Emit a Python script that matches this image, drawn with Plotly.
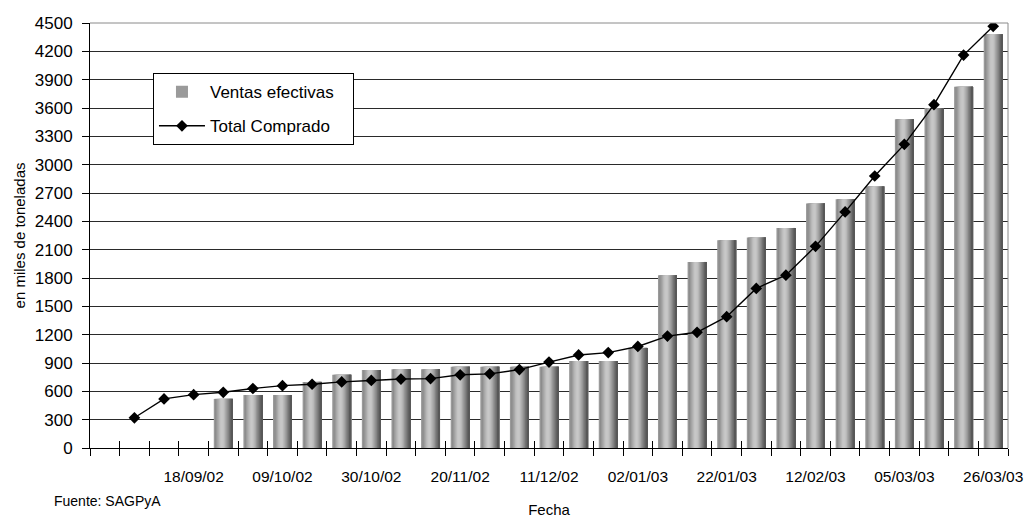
import plotly.graph_objects as go

# Weekly reporting dates (category axis)
fechas = [
    "28/08/02", "04/09/02", "11/09/02", "18/09/02", "25/09/02", "02/10/02",
    "09/10/02", "16/10/02", "23/10/02", "30/10/02", "06/11/02", "13/11/02",
    "20/11/02", "27/11/02", "04/12/02", "11/12/02", "18/12/02", "26/12/02",
    "02/01/03", "08/01/03", "15/01/03", "22/01/03", "29/01/03", "05/02/03",
    "12/02/03", "19/02/03", "26/02/03", "05/03/03", "12/03/03", "19/03/03",
    "26/03/03",
]

# Dates that carry a visible label on the x axis
etiquetas = [
    "18/09/02", "09/10/02", "30/10/02", "20/11/02", "11/12/02",
    "02/01/03", "22/01/03", "12/02/03", "05/03/03", "26/03/03",
]

# Effective sales (thousand tonnes)
ventas_efectivas = [
    None, None, None, None,
    520, 560, 560, 700, 775, 825, 835, 835, 860, 860, 860, 860,
    920, 920, 1060, 1830, 1970, 2200, 2230, 2330, 2590, 2635, 2770,
    3480, 3600, 3825, 4380,
]

# Total purchased (thousand tonnes)
total_comprado = [
    None,
    320, 520, 565, 590, 630, 660, 675, 700, 715, 730, 735, 775, 785, 830,
    910, 985, 1010, 1075, 1185, 1225, 1390, 1690, 1830, 2135, 2500, 2880,
    3215, 3635, 4160, 4465,
]

y_ticks = list(range(0, 4501, 300))

# Cylinder-like shading for the bars, left edge to right edge
sombreado = [
    "#7a7a7a", "#8c8c8c", "#9b9b9b", "#aaaaaa", "#b9b9b9", "#c4c4c4",
    "#c8c8c8", "#c4c4c4", "#b8b8b8", "#a8a8a8", "#969696", "#848484",
    "#727272", "#626262", "#585858",
]

FONT = "Liberation Sans, Arial, sans-serif"
ANCHO_BARRA = 0.64
NBSP = "\u00a0"

fig = go.Figure()

paso = ANCHO_BARRA / len(sombreado)
for i, color in enumerate(sombreado):
    fig.add_trace(go.Bar(
        x=fechas,
        y=ventas_efectivas,
        width=ANCHO_BARRA - i * paso,
        offset=-ANCHO_BARRA / 2 + i * paso,
        marker=dict(color=color if i else "#9a9a9a", line=dict(width=0)),
        name="Ventas efectivas" + NBSP * 3,
        legendgroup="ventas",
        showlegend=(i == 0),
        hoverinfo="skip" if i else "x+y",
    ))

fig.add_trace(go.Scatter(
    x=fechas,
    y=total_comprado,
    mode="lines+markers",
    line=dict(color="black", width=1.4),
    marker=dict(symbol="diamond", size=9, color="black"),
    name="Total Comprado",
    legendgroup="total",
))

# Helper trace on the overlay axis that draws the inner half of the ticks
fig.add_trace(go.Scatter(
    x=fechas,
    y=total_comprado,
    xaxis="x2",
    mode="markers",
    marker=dict(opacity=0),
    showlegend=False,
    hoverinfo="skip",
))

tick_text = [f if f in etiquetas else "" for f in fechas]
x_range = [-0.5, len(fechas) - 0.5]

fig.update_layout(
    width=1024,
    height=518,
    margin=dict(l=90, r=16, t=23, b=70, autoexpand=False),
    paper_bgcolor="white",
    plot_bgcolor="white",
    barmode="overlay",
    font=dict(family=FONT, color="black"),
    xaxis=dict(
        type="category",
        categoryorder="array",
        categoryarray=fechas,
        range=x_range,
        automargin=False,
        tickmode="array",
        tickvals=fechas,
        ticktext=tick_text,
        tickson="boundaries",
        ticks="outside",
        ticklen=7,
        tickcolor="black",
        tickwidth=1,
        showline=True,
        linecolor="black",
        linewidth=1,
        showgrid=False,
        zeroline=False,
        tickangle=0,
        tickfont=dict(family=FONT, size=15.5, color="black"),
        ticklabelstandoff=14,
        title=dict(text="Fecha", font=dict(family=FONT, size=15, color="black"), standoff=20),
    ),
    xaxis2=dict(
        type="category",
        categoryorder="array",
        categoryarray=fechas,
        overlaying="x",
        anchor="y",
        side="bottom",
        range=x_range,
        automargin=False,
        tickmode="array",
        tickvals=fechas,
        tickson="boundaries",
        ticks="inside",
        ticklen=7,
        tickcolor="black",
        tickwidth=1,
        showticklabels=False,
        showline=False,
        showgrid=False,
        zeroline=False,
    ),
    yaxis=dict(
        range=[0, 4500],
        automargin=False,
        tickmode="array",
        tickvals=y_ticks,
        ticks="outside",
        ticklen=7,
        tickcolor="black",
        showline=True,
        linecolor="black",
        linewidth=1,
        showgrid=True,
        gridcolor="#2a2a2a",
        gridwidth=1,
        zeroline=False,
        tickfont=dict(family=FONT, size=17, color="black"),
        ticklabelstandoff=6,
        title=dict(text="en miles de toneladas", font=dict(family=FONT, size=15, color="black"), standoff=5),
    ),
    legend=dict(
        x=0.0686,
        y=0.882,
        xanchor="left",
        yanchor="top",
        bgcolor="white",
        bordercolor="black",
        borderwidth=1,
        font=dict(family=FONT, size=17, color="black"),
        tracegroupgap=9,
        traceorder="grouped",
        itemwidth=46,
    ),
    annotations=[
        dict(
            text="Fuente: SAGPyA",
            xref="paper", yref="paper",
            x=-0.0414, y=-0.125,
            xanchor="left", yanchor="middle",
            showarrow=False,
            font=dict(family=FONT, size=14, color="black"),
        )
    ],
    shapes=[
        # Plot-area frame (top and right edges)
        dict(type="line", xref="x domain", yref="y domain", x0=0, x1=1, y0=1, y1=1,
             line=dict(color="#8a8a8a", width=1), layer="above"),
        dict(type="line", xref="x domain", yref="y domain", x0=1, x1=1, y0=0, y1=1,
             line=dict(color="#8a8a8a", width=1), layer="above"),
    ],
)

fig.write_html("out.html")
